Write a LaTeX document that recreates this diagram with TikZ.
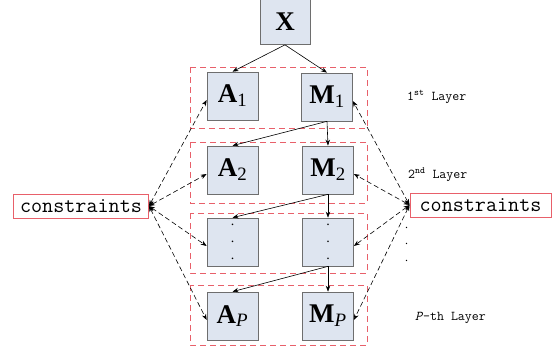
\documentclass[tikz,border=0pt]{standalone}
\usepackage{fontspec}
\setmainfont{Liberation Serif}
\usetikzlibrary{arrows.meta}
\definecolor{boxfill}{HTML}{DEE5F0}
\definecolor{boxline}{HTML}{6E6E6E}
\definecolor{layerred}{HTML}{E8606A}

\begin{document}
\begin{tikzpicture}[x=1pt,y=-1pt,
  blk/.style={draw=boxline,fill=boxfill,line width=0.7pt,minimum width=51pt,minimum height=48pt,inner sep=0pt,font=\fontsize{27}{27}\selectfont},
  layer/.style={draw=layerred,line width=0.9pt,dash pattern=on 6pt off 4pt},
  cons/.style={draw=layerred,fill=white,line width=0.9pt,font=\ttfamily\fontsize{21.5}{21.5}\selectfont,inner sep=0pt,minimum height=24pt},
  lbl/.style={font=\ttfamily\fontsize{13.5}{13.5}\selectfont,anchor=west,inner sep=0pt},
  flow/.style={-{Stealth[length=6pt,width=4.5pt]},line width=0.6pt},
  link/.style={{Stealth[length=6pt,width=4.5pt]}-{Stealth[length=6pt,width=4.5pt]},line width=0.6pt,dash pattern=on 5pt off 3pt}]

\useasboundingbox (0,0) rectangle (556,350);

\draw[layer] (190,67) rectangle (367,128);
\draw[layer] (190,142) rectangle (367,203);
\draw[layer] (190,213) rectangle (367,273);
\draw[layer] (190,285) rectangle (367,345);

\node[blk,minimum width=50pt,minimum height=45pt] (x) at (285,22) {\textbf{X}};
\node[blk] (a1) at (232.5,96) {\textbf{A}\textsubscript{1}};
\node[blk] (m1) at (327,97) {\textbf{M}\textsubscript{1}};
\node[blk] (a2) at (232.5,170) {\textbf{A}\textsubscript{2}};
\node[blk] (m2) at (328,170) {\textbf{M}\textsubscript{2}};
\node[blk,align=center,font=\fontsize{14}{17}\selectfont] (a3) at (232.5,242) {.\\.\\.};
\node[blk,align=center,font=\fontsize{14}{17}\selectfont] (m3) at (328,242) {.\\.\\.};
\node[blk] (ap) at (232.5,316) {\textbf{A}\textsubscript{\textit{P}}};
\node[blk] (mp) at (328,316) {\textbf{M}\textsubscript{\textit{P}}};

\node[cons,minimum width=135pt] (lc) at (81,206) {constraints};
\node[cons,minimum width=141pt] (rc) at (480.5,205) {constraints};

\node[lbl] (l1) at (407,97) {1\textsuperscript{st} Layer};
\node[lbl] (l2) at (408,175) {2\textsuperscript{nd} Layer};
\node[lbl,align=center,font=\fontsize{12}{16.5}\selectfont] (ld) at (405,244) {.\\.\\.};
\node[lbl] (lp) at (415,318) {\textit{P}-th Layer};

\draw[flow] (x.south) -- (a1.north);
\draw[flow] (x.south) -- (m1.north);
\draw[flow] (m1.south) -- (a2.north);
\draw[flow] (m1.south) -- (m2.north);
\draw[flow] (m2.south) -- (a3.north);
\draw[flow] (m2.south) -- (m3.north);
\draw[flow] (m3.south) -- (ap.north);
\draw[flow] (m3.south) -- (mp.north);

\draw[link] (lc.east) -- ([yshift=-4pt]a1.west);
\draw[link] (lc.east) -- ([yshift=-4pt]a2.west);
\draw[link] (lc.east) -- ([yshift=-4pt]a3.west);
\draw[link] (lc.east) -- ([yshift=-4pt]ap.west);
\draw[link] (rc.west) -- ([yshift=-4pt]m1.east);
\draw[link] (rc.west) -- ([yshift=-4pt]m2.east);
\draw[link] (rc.west) -- ([yshift=-4pt]m3.east);
\draw[link] (rc.west) -- ([yshift=-4pt]mp.east);

\end{tikzpicture}
\end{document}
